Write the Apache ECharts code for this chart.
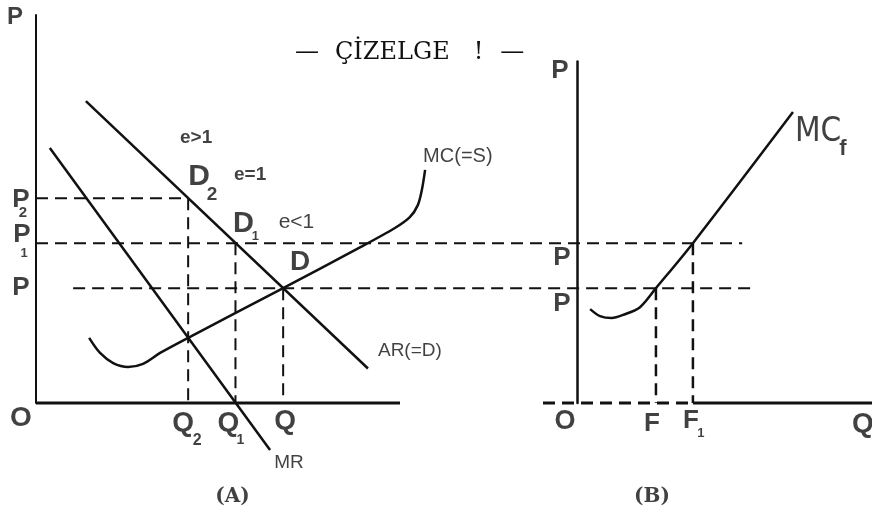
<!DOCTYPE html>
<html>
<head>
<meta charset="utf-8">
<title>Çizelge 1</title>
<script src="https://cdn.jsdelivr.net/npm/echarts@6/dist/echarts.min.js"></script>
<style>
  html, body { margin: 0; padding: 0; background: #fff; }
  #main { width: 872px; height: 520px; }
</style>
</head>
<body>
<div id="main"></div>
<script>
// price levels shared by both panels: P2, P1, P
var priceValues = [52.8, 41.2, 29.6];
// panel A quantities: Q2, Q1, Q
var qtyValues = [41.8, 54.8, 67.9];
// panel B quantities: F, F1
var firmQtyValues = [23.3, 34.2];

// panel A curves
var arLine = [[13.7, 77.8], [91.2, 8.9]];
var mrLine = [[3.8, 65.7], [64.3, -12.1]];
var mcCurve = [[14.6, 16.8], [17.6, 12.9], [21.2, 10.3], [25.3, 9.3], [29.4, 10.1],
  [34.1, 12.9], [41.8, 16.8], [67.9, 29.6], [89.0, 40.1], [98.6, 45.1],
  [102.7, 47.9], [104.9, 51.0], [106.0, 54.9], [106.9, 60.1]];
// panel B curve
var mcfCurve = [[3.9, 24.2], [6.8, 22.4], [10.3, 21.9], [13.6, 22.7], [18.6, 24.7],
  [23.3, 29.6], [34.2, 41.2], [63.7, 75.0]];
// panel A horizontal axis length and how far the P1 / P guides run (panel A units)
var axisA = [0, 100];
var p1Guide = [0, 194];
var pGuide = [10.2, 198.1];

var INK = '#111';
var SANS = "'Liberation Sans', Arial, sans-serif";
var SERIF = "'DejaVu Serif', 'Liberation Serif', serif";

var P2 = priceValues[0], P1 = priceValues[1], P = priceValues[2];
var Q2 = qtyValues[0], Q1 = qtyValues[1], Q = qtyValues[2];
var F = firmQtyValues[0], F1 = firmQtyValues[1];

function seg(points, grid, dashed, width) {
  return {
    type: 'line', xAxisIndex: grid, yAxisIndex: grid, data: points,
    symbol: 'none', clip: false, silent: true, animation: false,
    lineStyle: { color: INK, width: width || 2, type: dashed ? [12, 7] : 'solid' }
  };
}
function curve(points, grid) {
  var s = seg(points, grid, false, 2.5);
  s.smooth = 0.3;
  return s;
}
function txt(at, text, off, size, extra) {
  var label = {
    show: true, position: 'inside', formatter: text, offset: off,
    fontSize: size, fontFamily: SANS, fontWeight: 'bold', color: INK
  };
  for (var k in extra) label[k] = extra[k];
  return { value: at, label: label };
}
function labels(grid, items) {
  return {
    type: 'scatter', xAxisIndex: grid, yAxisIndex: grid, symbolSize: 0,
    clip: false, silent: true, animation: false, data: items
  };
}

var thin = { fontWeight: 'normal' };
var left = { fontWeight: 'normal', align: 'left' };

var labelsA = [
  txt([0, 100], 'P', [-21, 2], 24),
  txt([0, P2], 'P', [-15, 2], 26), txt([0, P2], '2', [-13, 15], 15),
  txt([0, P1], 'P', [-14, -8], 26), txt([0, P1], '1', [-12, 10], 13),
  txt([0, P], 'P', [-15, 0], 26),
  txt([0, 0], 'O', [-15, 15], 28),
  txt([Q2, 0], 'Q', [-5, 20], 28), txt([Q2, 0], '2', [9, 38], 16),
  txt([Q1, 0], 'Q', [-7, 20], 28), txt([Q1, 0], '1', [5, 37], 14),
  txt([Q, 0], 'Q', [2, 18], 28),
  txt(mrLine[1], 'MR', [19, 13], 19, thin),
  txt(arLine[1], 'AR(=D)', [10, -18], 19, left),
  txt([Q2, P2], 'e>1', [8, -60], 19),
  txt([Q2, P2], 'D', [11, -21], 30), txt([Q2, P2], '2', [24, -3], 19),
  txt([Q2, P2], 'e=1', [62, -23], 19),
  txt([Q1, P1], 'D', [8, -19], 29), txt([Q1, P1], '1', [20, -7], 13),
  txt([Q1, P1], 'e<1', [61, -21], 21, thin),
  txt([Q, P], 'D', [17, -26], 28),
  txt(mcCurve[mcCurve.length - 1], 'MC(=S)', [-2, -13], 20, left),
  txt([Q1, 0], '(A)', [-3, 94], 20, { fontFamily: SERIF })
];

var mcTop = mcfCurve[mcfCurve.length - 1];
var labelsB = [
  txt([0, 88], 'P', [-17, 9], 26),
  txt([0, P1], 'P', [-15, 15], 26),
  txt([0, P], 'P', [-15, 16], 26),
  txt([0, 0], 'O', [-12, 19], 27),
  txt([F, 0], 'F', [-4, 21], 26),
  txt([F1, 0], 'F', [-2, 18], 26), txt([F1, 0], '1', [8, 30], 13),
  txt([87, 0], 'Q', [-9, 21], 28),
  txt(mcTop, 'MC', [2, 20], 33, { fontWeight: 'normal', align: 'left',
    fontFamily: "'Liberation Sans Narrow', 'DejaVu Sans Condensed', 'Liberation Sans', sans-serif" }),
  txt(mcTop, 'f', [50, 37], 22),
  txt([F, 0], '(B)', [-4, 94], 20, { fontFamily: SERIF })
];

var hidden = { show: false };
var chart = echarts.init(document.getElementById('main'), null, { renderer: 'canvas' });
chart.setOption({
  backgroundColor: '#fff',
  animation: false,
  title: {
    text: '{a|—}{t|ÇİZELGE}{b|!}{c|—}', left: 290, top: 36,
    textStyle: {
      fontFamily: SERIF, fontSize: 24, fontWeight: 'normal', color: INK,
      rich: {
        a: { fontFamily: SERIF, fontSize: 24, color: INK },
        t: { fontFamily: SERIF, fontSize: 24, color: INK, padding: [0, 0, 0, 16] },
        b: { fontFamily: SERIF, fontSize: 24, color: INK, padding: [0, 0, 0, 24] },
        c: { fontFamily: SERIF, fontSize: 24, color: INK, padding: [0, 0, 0, 17] }
      }
    }
  },
  grid: [
    { left: 36, top: 15, width: 836, height: 388 },
    { left: 543, top: 61.56, width: 329, height: 341.44 }
  ],
  xAxis: [
    { gridIndex: 0, type: 'value', min: 0, max: 836 / 3.64,
      axisLine: hidden, axisTick: hidden, axisLabel: hidden, splitLine: hidden },
    { gridIndex: 1, type: 'value', min: -10, max: 87,
      axisLine: hidden, axisTick: hidden, axisLabel: hidden, splitLine: hidden }
  ],
  yAxis: [
    { gridIndex: 0, type: 'value', min: 0, max: 100,
      axisLine: { onZero: false, lineStyle: { color: INK, width: 2 } },
      axisTick: hidden, axisLabel: hidden, splitLine: hidden },
    { gridIndex: 1, type: 'value', min: 0, max: 88,
      axisLine: { onZero: true, lineStyle: { color: INK, width: 2.5 } },
      axisTick: hidden, axisLabel: hidden, splitLine: hidden }
  ],
  series: [
    // panel A axis and guides
    seg([[axisA[0], 0], [axisA[1], 0]], 0, false, 3),
    seg([[0, P2], [Q2, P2]], 0, true),
    seg([[p1Guide[0], P1], [p1Guide[1], P1]], 0, true),
    seg([[pGuide[0], P], [pGuide[1], P]], 0, true),
    seg([[Q2, P2], [Q2, 0]], 0, true),
    seg([[Q1, P1], [Q1, 0]], 0, true),
    seg([[Q, P], [Q, 0]], 0, true),
    // panel A curves
    seg(arLine, 0, false, 2.5),
    seg(mrLine, 0, false, 2.5),
    curve(mcCurve, 0),
    // panel B axis and guides
    seg([[-10, 0], [F1, 0]], 1, true, 3),
    seg([[F1, 0], [87, 0]], 1, false, 3),
    seg([[F, P], [F, 0]], 1, true, 2.5),
    seg([[F1, P1], [F1, 0]], 1, true, 2.5),
    curve(mcfCurve, 1),
    labels(0, labelsA),
    labels(1, labelsB)
  ]
});
</script>
</body>
</html>
